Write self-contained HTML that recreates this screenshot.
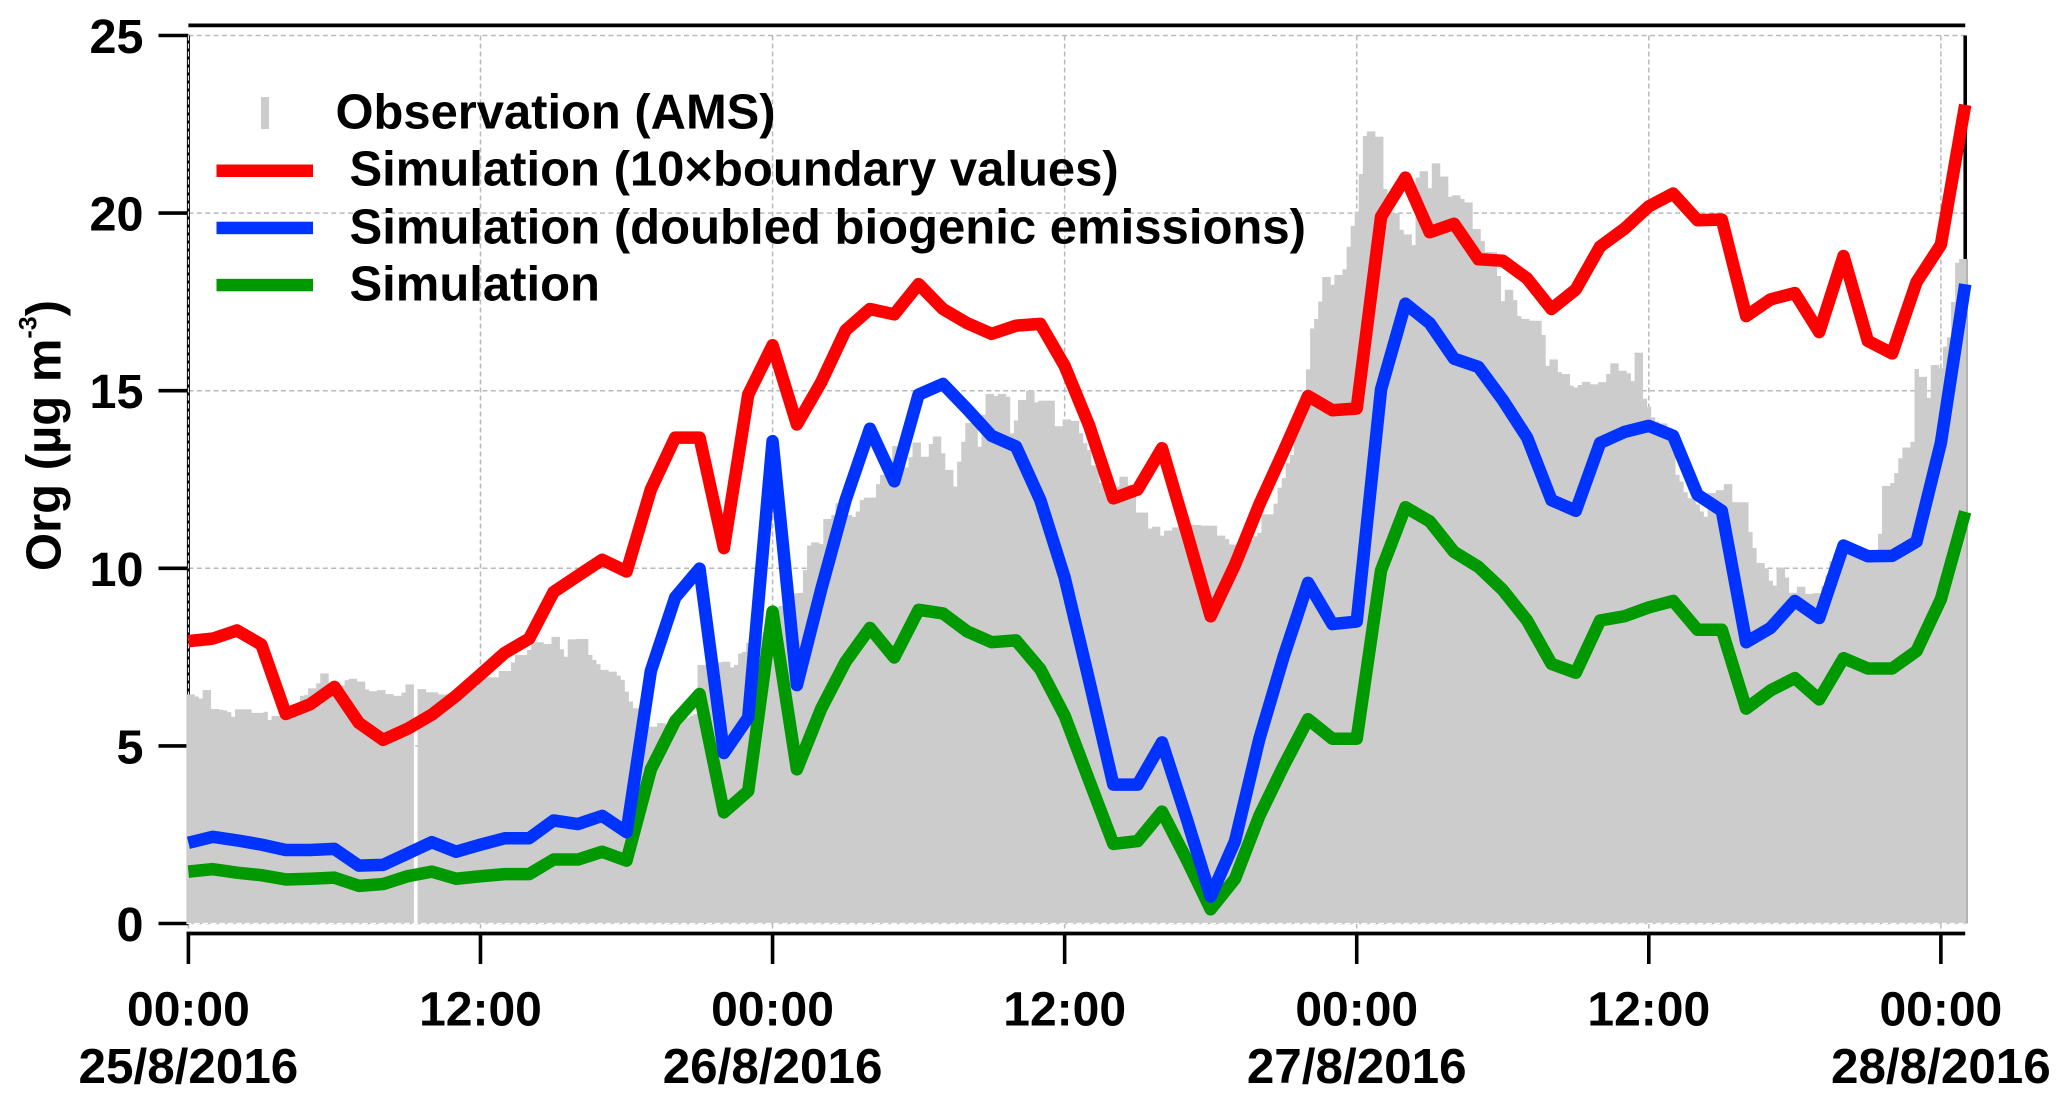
<!DOCTYPE html>
<html lang="en">
<head>
<meta charset="utf-8">
<title>Org time series</title>
<style>
html,body{margin:0;padding:0;background:#fff;width:2067px;height:1102px;overflow:hidden}
svg{display:block}
text{font-family:"Liberation Sans",Arial,sans-serif;font-weight:bold;fill:#000}
</style>
</head>
<body>
<svg id="chart" xmlns="http://www.w3.org/2000/svg" width="2067" height="1102" viewBox="0 0 2067 1102">
  <rect x="0" y="0" width="2067" height="1102" fill="#fff"/>
  <g id="grid"></g>
  <g id="axes"></g>
  <g id="bars"></g>
  <g id="overlay"></g>
  <g id="lines"></g>
  <g id="ticks"></g>

  <text transform="translate(60.5 571) rotate(-90)" font-size="49">Org (µg m<tspan font-size="25" dy="-24">-3</tspan><tspan dy="24">)</tspan></text>

  <g>
    <rect x="261" y="97" width="8" height="32" fill="#cccccc"/>
    <text x="335.5" y="128.6" font-size="48.9">Observation (AMS)</text>
    <rect x="216.5" y="164.5" width="96.5" height="12.5" fill="#ff0000"/>
    <text x="349.5" y="185.7" font-size="49">Simulation (10×boundary values)</text>
    <rect x="216.5" y="221.7" width="96.5" height="12.5" fill="#0033ff"/>
    <text x="349.5" y="243.6" font-size="49.05">Simulation (doubled biogenic emissions)</text>
    <rect x="216.5" y="278.8" width="96.5" height="12.5" fill="#009900"/>
    <text x="349.5" y="300.7" font-size="49">Simulation</text>
  </g>
</svg>
<script>
var yTickValues = [0, 5, 10, 15, 20, 25];
var xTickHours = [0, 12, 24, 36, 48, 60, 72];
var xTickTimes = ["00:00", "12:00", "00:00", "12:00", "00:00", "12:00", "00:00"];
var xTickDates = ["25/8/2016", "", "26/8/2016", "", "27/8/2016", "", "28/8/2016"];

var simBoundary = [7.95,8.02,8.25,7.85,5.9,6.17,6.66,5.65,5.17,5.48,5.88,6.41,7.01,7.62,8.02,9.33,9.79,10.24,9.91,12.22,13.68,13.68,10.57,14.89,16.28,14.05,15.24,16.7,17.3,17.15,18.0,17.3,16.9,16.6,16.83,16.88,15.7,14.03,11.97,12.22,13.38,11.05,8.65,10.1,11.8,13.3,14.85,14.45,14.5,19.9,21.0,19.46,19.7,18.7,18.66,18.16,17.3,17.85,19.06,19.56,20.19,20.55,19.8,19.82,17.1,17.57,17.75,16.65,18.79,16.4,16.05,18.06,19.11,23.05];
var simBiogenic = [2.27,2.44,2.34,2.22,2.07,2.07,2.1,1.63,1.65,1.97,2.29,2.02,2.22,2.4,2.4,2.9,2.8,3.03,2.57,7.11,9.18,9.99,4.8,5.8,13.58,6.71,9.41,11.92,13.93,12.45,14.89,15.19,14.48,13.73,13.43,11.92,9.74,6.86,3.91,3.91,5.1,2.98,0.76,2.32,5.2,7.52,9.59,8.43,8.5,15.04,17.45,16.9,15.9,15.67,14.74,13.68,11.92,11.62,13.53,13.84,14.01,13.73,12.07,11.62,7.92,8.32,9.08,8.6,10.64,10.34,10.35,10.75,13.53,18.0];
var simBase = [1.46,1.53,1.43,1.36,1.24,1.26,1.29,1.06,1.11,1.33,1.46,1.26,1.33,1.39,1.39,1.8,1.8,2.02,1.77,4.34,5.7,6.46,3.13,3.73,8.78,4.34,6.05,7.37,8.32,7.49,8.83,8.73,8.22,7.92,7.97,7.16,5.85,4.04,2.24,2.32,3.15,1.82,0.4,1.26,3.03,4.44,5.75,5.2,5.2,9.94,11.72,11.32,10.46,10.04,9.39,8.53,7.31,7.06,8.53,8.65,8.9,9.08,8.27,8.27,6.05,6.56,6.91,6.31,7.47,7.18,7.18,7.67,9.13,11.59];

var obsAms = [
6.45,6.45,6.39,6.33,6.57,6.57,
6.04,6.04,6.02,6.0,5.95,5.82,
6.03,6.03,6.03,6.03,5.93,5.93,
5.93,5.96,5.73,5.84,5.84,5.85,
5.9,6.0,6.1,6.2,6.41,6.43,
6.62,6.62,6.76,7.04,7.04,6.76,
6.7,6.65,6.7,6.85,6.89,6.89,
6.81,6.81,6.59,6.54,6.54,6.57,
6.57,6.46,6.46,6.41,6.41,6.5,
6.73,6.73,0,6.6,6.6,6.51,
6.51,6.51,6.45,6.45,6.45,6.5,
6.62,6.62,6.7,6.7,6.67,6.67,
6.93,6.93,6.93,6.93,6.93,7.11,
7.11,7.11,7.35,7.56,7.56,7.56,
7.7,7.92,7.92,7.92,7.87,7.87,
8.07,8.07,7.72,7.51,8.0,8.0,
8.01,8.01,8.01,7.56,7.42,7.3,
7.14,7.14,7.09,7.09,6.98,6.86,
6.53,6.25,6.06,6.06,5.9,5.68,
5.54,5.54,5.64,5.64,5.6,5.6,
5.65,5.7,5.75,5.8,5.85,5.9,
7.28,7.28,7.3,7.3,7.3,7.35,
7.37,7.37,7.21,7.28,7.6,7.65,
7.9,7.9,8.0,8.1,8.2,8.3,
8.6,8.9,8.94,8.94,9.28,9.28,
9.3,9.31,9.95,10.64,10.73,10.73,
10.68,11.39,11.39,11.5,11.83,11.8,
11.7,11.5,11.45,11.6,11.92,11.99,
11.99,11.99,12.37,12.63,12.63,12.63,
13.44,13.44,13.44,12.84,13.13,13.54,
13.54,13.14,13.14,13.5,13.71,13.71,
13.24,12.77,12.77,12.3,13.0,13.56,
14.09,14.09,14.09,13.42,14.32,14.91,
14.91,14.85,14.91,14.91,14.83,13.8,
14.16,14.74,14.74,15.0,15.0,14.67,
14.72,14.72,14.72,14.72,14.0,14.0,
14.19,14.19,14.15,14.15,13.8,13.52,
13.33,12.9,12.9,12.4,12.35,12.3,
12.3,12.3,12.58,12.58,12.35,12.35,
11.57,11.57,11.57,11.12,11.17,11.17,
10.92,11.06,11.06,11.15,11.15,11.17,
11.17,11.22,11.22,11.22,11.2,11.2,
11.2,11.2,10.92,10.92,10.82,10.67,
10.67,10.7,10.7,10.8,10.8,10.9,
11.0,11.52,11.52,11.52,11.82,12.27,
12.54,12.96,13.19,13.8,14.3,14.8,
15.6,16.75,17.02,17.51,18.2,18.2,
17.98,18.26,18.26,18.42,19.05,19.64,
20.04,21.1,22.17,22.3,22.3,22.15,
22.15,20.68,20.3,20.0,20.0,19.53,
19.4,19.4,19.1,21.0,21.18,21.18,
20.7,21.4,21.4,21.03,21.03,20.46,
20.5,20.5,20.4,20.3,20.3,19.55,
19.55,19.22,18.9,18.9,18.9,18.23,
17.52,17.84,17.84,17.55,17.1,17.02,
17.02,16.97,16.97,16.97,16.57,15.7,
15.88,15.88,15.52,15.47,15.47,15.14,
15.09,15.16,15.25,15.25,15.18,15.18,
15.24,15.24,15.47,15.77,15.77,15.56,
15.56,15.49,15.27,16.07,16.07,14.77,
14.55,14.25,14.13,14.08,14.08,13.95,
13.9,12.63,12.44,12.14,11.97,11.97,
11.8,11.6,11.45,12.12,12.12,12.2,
12.2,12.37,12.37,11.86,11.86,11.86,
11.86,11.02,10.57,10.15,10.15,10.0,
9.65,9.51,10.02,10.02,9.74,9.31,
9.31,9.48,9.48,9.28,9.28,9.3,
9.3,9.5,9.8,10.2,10.4,10.4,
10.4,10.4,10.4,10.4,10.4,10.4,
10.4,10.4,10.4,10.97,12.32,12.32,
12.4,12.68,13.1,13.4,13.4,13.56,
15.61,15.39,15.39,14.8,15.72,15.72,
15.63,16.24,16.5,17.5,18.6,18.71,
18.71];

var SVGNS = "http://www.w3.org/2000/svg";
var plotLeft = 188.4, hourPx = 24.34, baseY = 923.5, unitPx = 35.52;
function xScale(h) { return plotLeft + hourPx * h; }
function yScale(v) { return baseY - unitPx * v; }
function make(tag, attrs, parent) {
  var el = document.createElementNS(SVGNS, tag);
  for (var k in attrs) { el.setAttribute(k, attrs[k]); }
  parent.appendChild(el);
  return el;
}
var gridG = document.getElementById("grid");
var axesG = document.getElementById("axes");
var barsG = document.getElementById("bars");
var overlayG = document.getElementById("overlay");
var linesG = document.getElementById("lines");
var ticksG = document.getElementById("ticks");
var plotRight = xScale(73);

yTickValues.forEach(function (v) {
  var g = make("line", {x1: plotLeft, x2: plotRight, y1: yScale(v), y2: yScale(v), stroke: "#b9b9b9", "stroke-width": 1.5, "stroke-dasharray": "5 3.4"}, gridG);
  
  
  var t = make("line", {x1: 158.5, x2: plotLeft, y1: yScale(v), y2: yScale(v), stroke: "#000", "stroke-width": 3.6}, axesG);
  
  
  var l = make("text", {x: 143.5, y: yScale(v) + 17.5, "text-anchor": "end", "font-size": 48.5}, ticksG);
  l.textContent = String(v);
  
  
});

xTickHours.forEach(function (h, i) {
  var g = make("line", {x1: xScale(h), x2: xScale(h), y1: yScale(25), y2: 933, stroke: "#b9b9b9", "stroke-width": 1.5, "stroke-dasharray": "5 3"}, gridG);
  
  
  var t = make("line", {x1: xScale(h), x2: xScale(h), y1: 932, y2: 964, stroke: "#000", "stroke-width": 3.6}, axesG);
  
  
  var l = make("text", {x: xScale(h), y: 1025.7, "text-anchor": "middle", "font-size": 48}, ticksG);
  l.textContent = xTickTimes[i];
  
  
  if (xTickDates[i]) {
    var d = make("text", {x: xScale(h), y: 1083, "text-anchor": "middle", "font-size": 49.4}, ticksG);
    d.textContent = xTickDates[i];
    
    
  }
});

var topAxis = make("line", {x1: plotLeft, x2: plotRight, y1: 25.4, y2: 25.4, stroke: "#000", "stroke-width": 3.8}, axesG);


var bottomAxis = make("line", {x1: plotLeft - 1.8, x2: plotRight, y1: 933.5, y2: 933.5, stroke: "#000", "stroke-width": 3.8}, axesG);


var leftAxis = make("line", {x1: plotLeft, x2: plotLeft, y1: yScale(25), y2: yScale(0), stroke: "#000", "stroke-width": 3}, axesG);


var leftDash = make("line", {x1: plotLeft, x2: plotLeft, y1: yScale(25), y2: yScale(0), stroke: "#fff", "stroke-width": 1, "stroke-dasharray": "5 3"}, axesG);


var rightAxis = make("line", {x1: plotRight, x2: plotRight, y1: yScale(25), y2: yScale(0), stroke: "#000", "stroke-width": 3.6}, axesG);



var stepHours = 1 / 6;
var barW = hourPx * stepHours;
obsAms.forEach(function (v, i) {
  if (v <= 0) { return; }
  var r = make("rect", {x: xScale(i * stepHours) - barW / 2, y: yScale(v), width: barW + 0.35, height: baseY - yScale(v), fill: "#cccccc"}, barsG);
  
  
});

var lastBar = obsAms[obsAms.length - 1];
var edge = make("line", {x1: plotRight + 1.9, x2: plotRight + 1.9, y1: yScale(lastBar), y2: baseY, stroke: "#8a8a8a", "stroke-width": 1}, overlayG);


var zeroDash = make("line", {x1: plotLeft - 2, x2: plotRight + 2, y1: yScale(0), y2: yScale(0), stroke: "#fff", "stroke-width": 1.2, "stroke-dasharray": "5 3.4"}, overlayG);



function drawSeries(values, colour) {
  var pts = values.map(function (v, h) { return xScale(h).toFixed(2) + "," + yScale(v).toFixed(2); }).join(" ");
  return make("polyline", {points: pts, fill: "none", stroke: colour, "stroke-width": 12.5, "stroke-linejoin": "round", "stroke-linecap": "butt"}, linesG);
}
var lineBase = drawSeries(simBase, "#009900");


var lineBiogenic = drawSeries(simBiogenic, "#0033ff");


var lineBoundary = drawSeries(simBoundary, "#ff0000");


</script>
</body>
</html>
